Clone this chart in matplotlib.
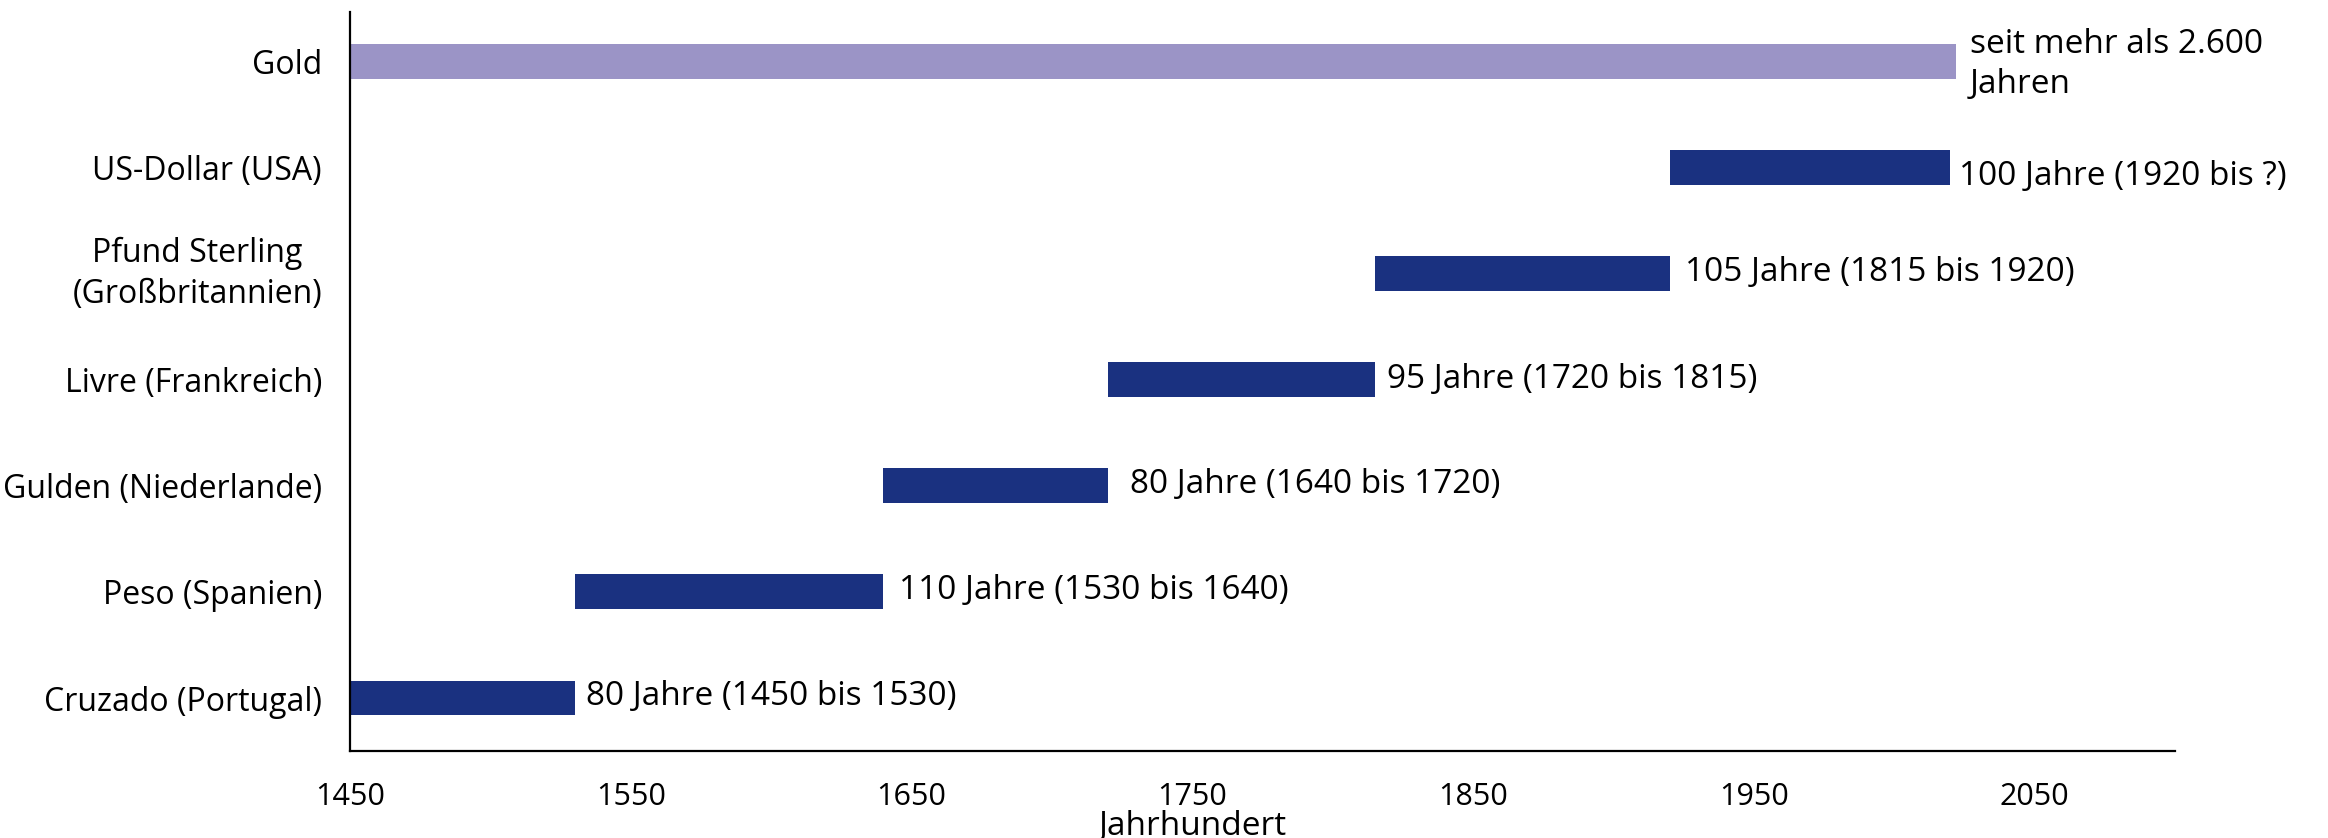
import matplotlib
matplotlib.use("Agg")
import matplotlib.pyplot as plt
from matplotlib.transforms import ScaledTranslation

# ---- data ----
currencies = ["Cruzado (Portugal)", "Peso (Spanien)", "Gulden (Niederlande)",
              "Livre (Frankreich)", "Pfund Sterling\n(Großbritannien)",
              "US-Dollar (USA)", "Gold"]
start_years = [1450, 1530, 1640, 1720, 1815, 1920, 1450]
end_years = [1530, 1640, 1720, 1815, 1920, 2020, 2022]
bar_labels = ["80 Jahre (1450 bis 1530)", "110 Jahre (1530 bis 1640)",
              "80 Jahre (1640 bis 1720)", "95 Jahre (1720 bis 1815)",
              "105 Jahre (1815 bis 1920)", "100 Jahre (1920 bis ?)",
              "seit mehr als 2.600\nJahren"]
tick_years = [1450, 1550, 1650, 1750, 1850, 1950, 2050]
x_label = "Jahrhundert"

# ---- style ----
NAVY = "#1a3180"
LAVENDER = "#9b94c6"
colors = [NAVY] * 6 + [LAVENDER]
label_pad_pt = [8, 11.5, 16, 9, 11, 6, 10]
label_dy_pt = [1, 1, 1, 0, 1, -6, -2]

plt.rcParams['font.family'] = ['Open Sans', 'DejaVu Sans']
FS_Y = 23
FS_X = 22
FS_ANN = 24

fig = plt.figure(figsize=(23.28, 8.38), dpi=100)
ax = fig.add_axes([0.1503, 0.1038, 0.9343 - 0.1503, 0.9857 - 0.1038])

y = list(range(len(currencies)))
widths = [e - s for s, e in zip(start_years, end_years)]
ax.barh(y, widths, left=start_years, height=0.33, color=colors)

for yi, e, lab, pad, dy in zip(y, end_years, bar_labels, label_pad_pt, label_dy_pt):
    ax.annotate(lab, xy=(e, yi), xytext=(pad, dy), textcoords="offset points",
                ha="left", va="center", fontsize=FS_ANN, color="black",
                linespacing=1.3)

ax.set_xlim(1450, 2100)
ax.set_ylim(-0.5, 6.47)
ax.set_xticks(tick_years)
ax.set_xticklabels([str(t) for t in tick_years], fontsize=FS_X)
ax.set_yticks(y)
ax.set_yticklabels(currencies, fontsize=FS_Y)
for t in ax.get_yticklabels():
    t.set_multialignment("center")
    t.set_linespacing(1.35)
    if "\n" in t.get_text():
        t.set_verticalalignment("center")
        t.set_y(t.get_position()[1])
ax.tick_params(axis="x", length=0, pad=22)
ax.tick_params(axis="y", length=0, pad=20)

for s in ["top", "right"]:
    ax.spines[s].set_visible(False)
for s in ["left", "bottom"]:
    ax.spines[s].set_linewidth(1.6)
    ax.spines[s].set_color("black")

ax.text(1750, -0.5, x_label, ha="center", va="center", fontsize=FS_ANN,
        transform=ax.transData + ScaledTranslation(0, -54 / 72, fig.dpi_scale_trans))

fig.savefig("out.png", dpi=100, facecolor="white")
